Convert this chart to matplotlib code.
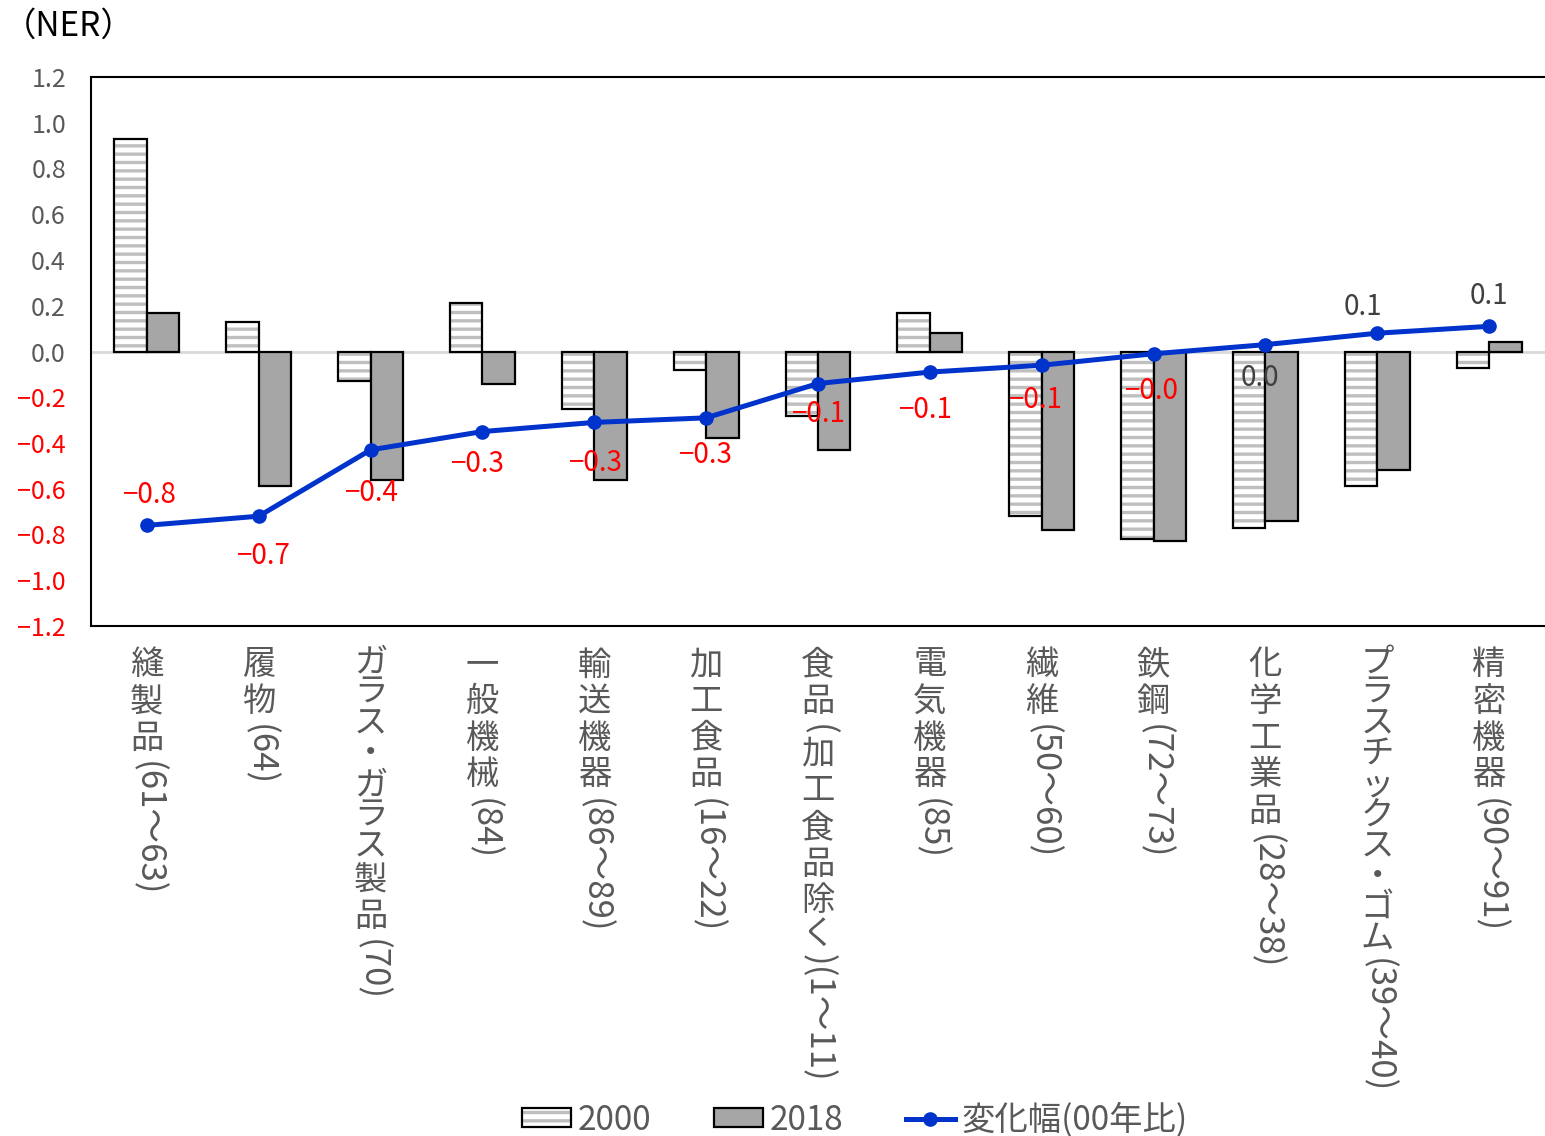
import numpy as np
import matplotlib
matplotlib.use("Agg")
import matplotlib.pyplot as plt
from matplotlib.patches import Patch
from matplotlib.lines import Line2D
from matplotlib.font_manager import FontProperties

plt.rcParams['font.family'] = ['Noto Sans CJK JP', 'DejaVu Sans']
plt.rcParams['hatch.linewidth'] = 2.4

# data
categories = ['縫製品(61～63)', '履物(64)', 'ガラス・ガラス製品(70)', '一般機械(84)',
              '輸送機器(86～89)', '加工食品(16～22)', '食品(加工食品除く)(1～11)',
              '電気機器(85)', '繊維(50～60)', '鉄鋼(72～73)', '化学工業品(28～38)',
              'プラスチックス・ゴム(39～40)', '精密機器(90～91)']
ner_2000 = [0.93, 0.13, -0.13, 0.21, -0.25, -0.08, -0.28, 0.17, -0.72, -0.82, -0.77, -0.59, -0.07]
ner_2018 = [0.17, -0.59, -0.56, -0.14, -0.56, -0.38, -0.43, 0.08, -0.78, -0.83, -0.74, -0.52, 0.04]
change = [-0.76, -0.72, -0.43, -0.35, -0.31, -0.29, -0.14, -0.09, -0.06, -0.01, 0.03, 0.08, 0.11]
# label offsets (points) above (+) / below (-) each line point
label_dy = [22, -29, -31, -23, -29, -27, -22, -27, -25, -27, -24, 19, 22]
label_dx = [2, 4, 1, -3, 1, 0, 1, -3, -4, -1, -4, -10, 0]

YTICKS = np.round(np.arange(-1.2, 1.21, 0.2), 1)
RED = '#ff0000'
GRAY = '#595959'
BLUE = '#0033cc'


def fmt(v):
    s = '{:.1f}'.format(v)
    if s == '-0.0' and abs(v) < 1e-9:
        s = '0.0'
    return s.replace('-', '−')


fig = plt.figure(figsize=(15.45, 11.36), dpi=100)
ax = fig.add_axes([91 / 1545, 1 - 626 / 1136, 1 - 91 / 1545, (626 - 77) / 1136])

x = np.arange(len(categories))
w = 0.29

# 2000 bars: striped fill + black outline
ax.bar(x - w / 2, ner_2000, w, color='white', edgecolor='#bfbfbf', hatch='--', linewidth=0, zorder=2)
ax.bar(x - w / 2, ner_2000, w, color='none', edgecolor='black', linewidth=1.6, zorder=3)
ax.bar(x + w / 2, ner_2018, w, color='#a6a6a6', edgecolor='black', linewidth=1.6, zorder=3)

ax.axhline(0, color='#d9d9d9', linewidth=2, zorder=1)

ax.plot(x, change, color=BLUE, linewidth=3.6, marker='o', markersize=9.5, zorder=5)

for i, v in enumerate(change):
    txt = fmt(v)
    col = RED if txt.startswith('−') else '#404040'
    ax.annotate(txt, (i, v), xytext=(label_dx[i], label_dy[i]), textcoords='offset points',
                ha='center', va='center', fontsize=20, color=col, zorder=6)

ax.set_xlim(-0.5, len(categories) - 0.5)
ax.set_ylim(-1.2, 1.2)
ax.set_yticks(YTICKS)
ax.set_yticklabels([fmt(t) for t in YTICKS], fontsize=18)
for t, lab in zip(YTICKS, ax.get_yticklabels()):
    lab.set_color(RED if t < 0 else GRAY)
ax.tick_params(axis='y', length=0, pad=18)
ax.set_xticks([])
ax.spines['right'].set_visible(False)
for s in ['left', 'top', 'bottom']:
    ax.spines[s].set_linewidth(1.5)


# vertical (tategaki-style) category labels:
# kanji/kana upright, digits and brackets turned 90 degrees
def is_upright(ch):
    if ch == '～':
        return False
    return ord(ch) > 0x2E80


fs = 24
fs_rot = 25
fp = FontProperties(family=['Noto Sans CJK JP', 'DejaVu Sans'], size=fs)
fp_rot = FontProperties(family=['Noto Sans CJK JP', 'DejaVu Sans'], size=fs_rot)
renderer = fig.canvas.get_renderer()
for i, lab in enumerate(categories):
    runs = []
    for ch in lab:
        up = is_upright(ch)
        if up or not runs or runs[-1][0]:
            runs.append([up, ch])
        else:
            runs[-1][1] += ch
    off = 16
    for up, s in runs:
        if up:
            kana = 0x3040 <= ord(s) <= 0x30FF
            pitch = fs * (0.92 if kana else 1.1)
            ax.annotate(s, (i, 0), xycoords=('data', 'axes fraction'),
                        xytext=(0, -off - pitch / 2 + fs * 0.05),
                        textcoords='offset points', ha='center', va='center',
                        fontproperties=fp, color=GRAY, annotation_clip=False)
            off += pitch
        else:
            tw, th, td = renderer.get_text_width_height_descent(s, fp_rot, ismath=False)
            tw = tw * 72 / fig.dpi
            ax.annotate(s, (i, 0), xycoords=('data', 'axes fraction'), xytext=(0, -off - 2),
                        textcoords='offset points', ha='center', va='top', rotation=-90,
                        fontproperties=fp_rot, color=GRAY, annotation_clip=False)
            off += tw + 3

fig.text(3 / 1545, 1 - 26 / 1136, '（NER）', fontsize=24, color='black', va='center', ha='left')

h2000 = (Patch(facecolor='white', edgecolor='#bfbfbf', hatch='--', linewidth=0),
         Patch(facecolor='none', edgecolor='black', linewidth=1.6))
h2018 = Patch(facecolor='#a6a6a6', edgecolor='black', linewidth=1.6)
hline = Line2D([], [], color=BLUE, linewidth=3.6, marker='o', markersize=9.5)
leg = fig.legend([h2000, h2018, hline], ['2000', '2018', '変化幅(00年比)'], ncol=3,
                 loc='lower center', bbox_to_anchor=(855 / 1545, -0.028), frameon=False,
                 fontsize=24, handlelength=1.45, handleheight=0.5, handletextpad=0.2,
                 columnspacing=1.9)
for t in leg.get_texts():
    t.set_color(GRAY)

fig.savefig('out.png', dpi=100)
